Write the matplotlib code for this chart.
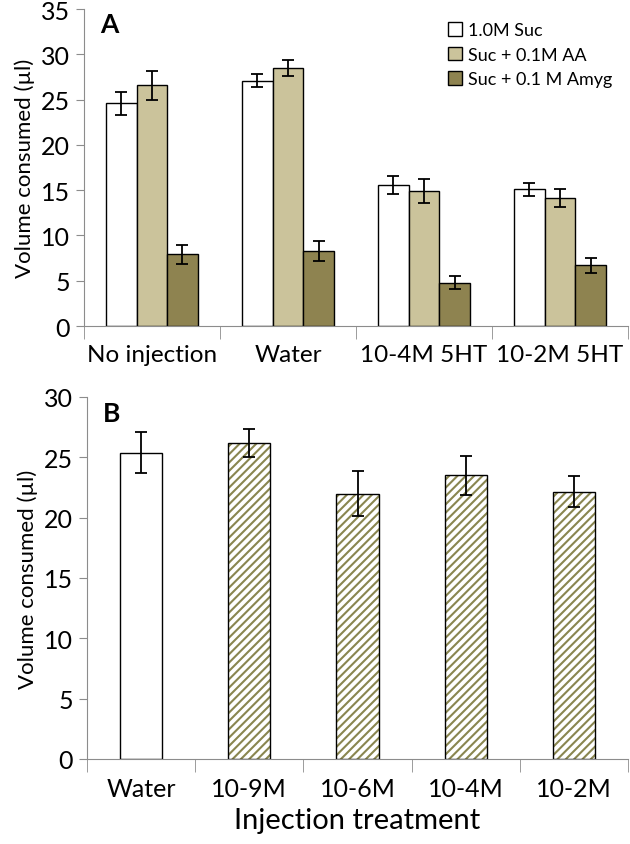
import matplotlib.pyplot as plt
import numpy as np

# panel A data
groups_a = ['No injection', 'Water', '10-4M 5HT', '10-2M 5HT']
series_names = ['1.0M Suc', 'Suc + 0.1M AA', 'Suc + 0.1 M Amyg']
suc = [24.6, 27.1, 15.6, 15.1]
suc_err = [1.3, 0.75, 1.0, 0.7]
aa = [26.6, 28.5, 14.9, 14.1]
aa_err = [1.6, 0.9, 1.3, 1.0]
amyg = [7.9, 8.3, 4.8, 6.7]
amyg_err = [1.0, 1.1, 0.7, 0.85]

# panel B data
groups_b = ['Water', '10-9M', '10-6M', '10-4M', '10-2M']
vol_b = [25.4, 26.2, 22.0, 23.5, 22.15]
vol_b_err = [1.7, 1.15, 1.9, 1.65, 1.3]

colors_a = ['white', '#cbc39b', '#8e8350']
axis_col = '#8c8c8c'
hatch_col = '#8a8650'

plt.rcParams['font.family'] = ['Lato', 'DejaVu Sans']
plt.rcParams['hatch.linewidth'] = 1.5

fig = plt.figure(figsize=(6.3, 8.45), dpi=100)
ax1 = fig.add_axes([0.133, 0.613, 0.864, 0.375])
ax2 = fig.add_axes([0.138, 0.1006, 0.859, 0.4284])


def style_axis(ax, n, fs):
    for s in ['top', 'right']:
        ax.spines[s].set_visible(False)
    ax.spines['left'].set_color(axis_col)
    ax.spines['bottom'].set_color(axis_col)
    ax.set_xlim(-0.5, n - 0.5)
    ax.set_xticks(np.arange(n))
    ax.tick_params(axis='x', length=0, labelsize=fs, pad=13)
    ax.set_xticks(np.arange(n + 1) - 0.5, minor=True)
    ax.tick_params(axis='x', which='minor', length=9, color=axis_col)
    ax.tick_params(axis='y', length=6, color=axis_col, labelsize=18, pad=4)
    ax.set_ylabel('Volume consumed (\u00b5l)', fontsize=16, labelpad=4)


x = np.arange(len(groups_a))
w = 0.225
vals = [suc, aa, amyg]
errs = [suc_err, aa_err, amyg_err]
for i in range(3):
    ax1.bar(x + (i - 1) * w, vals[i], w, yerr=errs[i], color=colors_a[i],
            edgecolor='black', linewidth=1.0, label=series_names[i],
            error_kw=dict(ecolor='black', elinewidth=1.3, capsize=4, capthick=1.3))
style_axis(ax1, len(groups_a), 17.5)
ax1.set_ylim(0, 35)
ax1.set_yticks(np.arange(0, 36, 5))
ax1.set_xticklabels(groups_a)
ax1.text(0.03, 0.99, 'A', transform=ax1.transAxes, fontsize=19, fontweight='bold',
         va='top', ha='left')
ax1.legend(loc='upper right', bbox_to_anchor=(1.0, 1.01), frameon=False, fontsize=13,
           handlelength=0.8, handleheight=0.8, handletextpad=0.3, labelspacing=0.45)

xb = np.arange(len(groups_b))
hatches = ['', '////', '////', '////', '////']
for i in range(len(groups_b)):
    # hatch layer in olive, outline drawn on top in black
    ax2.bar(xb[i], vol_b[i], 0.39, color='white', edgecolor=hatch_col,
            linewidth=0, hatch=hatches[i])
    ax2.bar(xb[i], vol_b[i], 0.39, yerr=vol_b_err[i], fill=False, edgecolor='black',
            linewidth=1.0,
            error_kw=dict(ecolor='black', elinewidth=1.3, capsize=4, capthick=1.3))
style_axis(ax2, len(groups_b), 18)
ax2.set_ylim(0, 30)
ax2.set_yticks(np.arange(0, 31, 5))
ax2.set_xticklabels(groups_b)
ax2.set_xlabel('Injection treatment', fontsize=21, labelpad=5)
ax2.text(0.03, 0.99, 'B', transform=ax2.transAxes, fontsize=19, fontweight='bold',
         va='top', ha='left')

fig.savefig('out.png', dpi=100, facecolor='white')
